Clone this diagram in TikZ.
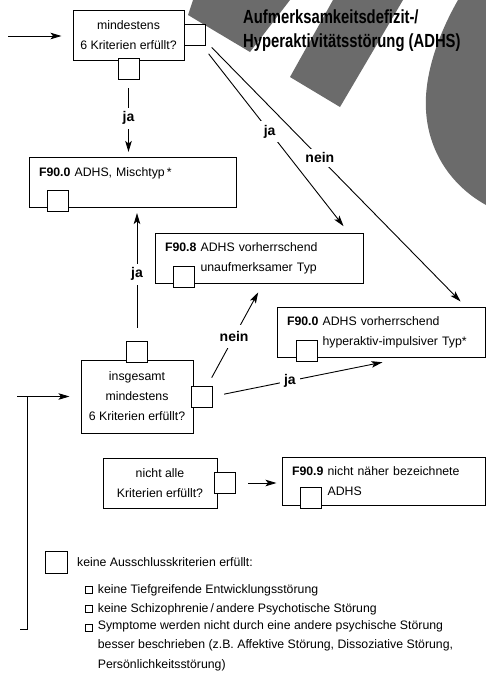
\documentclass[tikz,border=0pt]{standalone}
\usepackage{fontspec}
\setmainfont{Liberation Sans}
\newfontfamily\titelschrift[FakeStretch=0.78]{Liberation Sans}
\usetikzlibrary{
    positioning,
    arrows.meta,
    calc
}

\begin{document}
\begin{tikzpicture}[
    x=1pt, y=-1pt,
    every node/.style={font=\fontsize{12.3}{20}\selectfont},
    frage/.style={rectangle, draw, line width=1pt, align=center, inner sep=0pt},
    diagnose/.style={rectangle, draw, line width=1pt, align=left, text width=187pt, inner xsep=10pt, minimum height=50pt},
    kasten/.style={rectangle, draw, line width=0.9pt, fill=white, minimum size=21pt, inner sep=0pt},
    mini/.style={rectangle, draw, line width=0.8pt, minimum size=6.5pt, inner sep=0pt},
    antwort/.style={font=\bfseries\fontsize{14}{16}\selectfont, fill=white, inner sep=4pt},
    eintrag/.style={inner sep=0pt, font=\fontsize{12.3}{19.5}\selectfont},
    pfeil/.style={-{Stealth[length=11pt, width=6.5pt, inset=2.5pt]}, line width=0.9pt},
    linie/.style={line width=0.9pt},
    band/.style={fill=black!58}
]
\useasboundingbox (0,0) rectangle (486,678);

\fill[band] (193,0) -- (290,0) -- (250,52) -- (188,15) -- cycle;
\fill[band] (333,0) -- (403,0) -- (340,107) -- (290,77) -- cycle;
\fill[band] (458,0) .. controls (438,35) and (424,75) .. (426,110) .. controls (428,150) and (450,185) .. (486,205) -- (486,0) -- cycle;

\node[anchor=north west, align=left, inner sep=0pt, font=\titelschrift\bfseries\fontsize{19}{24}\selectfont] (titel) at (243,10) {Aufmerksamkeitsdefizit-/\\Hyperaktivitätsstörung (ADHS)};

\node[frage, minimum width=111pt, minimum height=50pt] (q1) at (128.5,35) {mindestens\\6 Kriterien erfüllt?};
\node[kasten, right=-1pt of q1] (q1r) {};
\node[kasten, below=-3pt of q1] (q1u) {};

\node[diagnose] (misch) at (132.5,182.5) {\textbf{F90.0} ADHS, Mischtyp\,*\\\mbox{}};
\node[diagnose, text width=188pt] (f908) at (259,258) {\textbf{F90.8} ADHS vorherrschend\\\hphantom{\textbf{F90.8} }unaufmerksamer Typ};
\node[diagnose, text width=188pt] (hyper) at (381,332) {\textbf{F90.0} ADHS vorherrschend\\\hphantom{\textbf{F90.0} }hyperaktiv-impulsiver Typ*};

\node[frage, minimum width=112pt, minimum height=73pt] (q2) at (137,396.5) {insgesamt\\mindestens\\6 Kriterien erfüllt?};
\node[kasten, above=-3pt of q2] (q2o) {};
\node[kasten, right=-3pt of q2] (q2r) {};

\node[frage, minimum width=114pt, minimum height=50pt] (q3) at (160,483) {nicht alle\\Kriterien erfüllt?};
\node[kasten, right=-4pt of q3] (q3r) {};
\node[diagnose, text width=183pt, minimum height=48pt] (f909) at (383.5,481) {\textbf{F90.9} nicht näher bezeichnete\\\hphantom{\textbf{F90.9} }ADHS};

\node[kasten, above right=-3.5pt and 18pt of misch.south west] (mischk) {};
\node[kasten, above right=-4pt and 18pt of f908.south west] (f908k) {};
\node[kasten, above right=-4pt and 19pt of hyper.south west] (hyperk) {};
\node[kasten, above right=-3pt and 18pt of f909.south west] (f909k) {};

\node[kasten, minimum size=22pt] (auskasten) at (56.5,562.5) {};
\node[eintrag, right=9pt of auskasten] (austext) {keine Ausschlusskriterien erfüllt:};
\node[mini] (punkt1) at (89,590) {};
\node[mini] (punkt2) at (89,609) {};
\node[mini] (punkt3) at (89,628) {};
\node[eintrag, right=5pt of punkt1] (grund1) {keine Tiefgreifende Entwicklungsstörung};
\node[eintrag, right=5pt of punkt2] (grund2) {keine Schizophrenie\,/\,andere Psychotische Störung};
\node[eintrag, align=left, below right=-4pt and 5pt of punkt3.north east] (grund3) {Symptome werden nicht durch eine andere psychische Störung\\besser beschrieben (z.B. Affektive Störung, Dissoziative Störung,\\Persönlichkeitsstörung)};

\coordinate (eingang) at (8,36);
\coordinate (klammer) at (27,629);
\coordinate (ecke) at (klammer |- q2.west);

\draw[pfeil, shorten >=11pt] (eingang) -- (eingang -| q1.west);
\draw[pfeil, shorten <=9pt, shorten >=5pt] (q1u.south) -- node[antwort] {ja} (q1u.south |- misch.north);
\draw[pfeil, shorten <=10pt, shorten >=8pt] ([xshift=8pt]q1r.south) -- node[antwort, pos=0.46] {ja} ([xshift=-15pt]f908.north east);
\draw[pfeil, shorten <=9pt, shorten >=7pt] ([yshift=-6pt]q1r.east) -- node[antwort, pos=0.44] {nein} ([xshift=-20pt]hyper.north east);
\draw[pfeil, shorten <=13pt, shorten >=5pt] (q2o.north) -- node[antwort] {ja} (q2o.north |- misch.south);
\draw[pfeil, shorten <=9pt, shorten >=10pt] ([xshift=-5pt]q2r.north east) -- node[antwort, pos=0.48, inner sep=6pt] {nein} ([xshift=4pt]f908.south);
\draw[pfeil, shorten <=12pt, shorten >=24pt] (q2r.east) -- node[antwort, pos=0.4] {ja} ([xshift=25pt]hyper.south);
\draw[pfeil, shorten <=13pt, shorten >=5pt] (q3r.east) -- (q3r.east -| f909.west);
\draw[linie] ([xshift=-7pt]klammer) -- (klammer) -- (ecke);
\draw[pfeil, shorten >=11pt] ([xshift=-10pt]ecke) -- (q2);

\end{tikzpicture}
\end{document}
